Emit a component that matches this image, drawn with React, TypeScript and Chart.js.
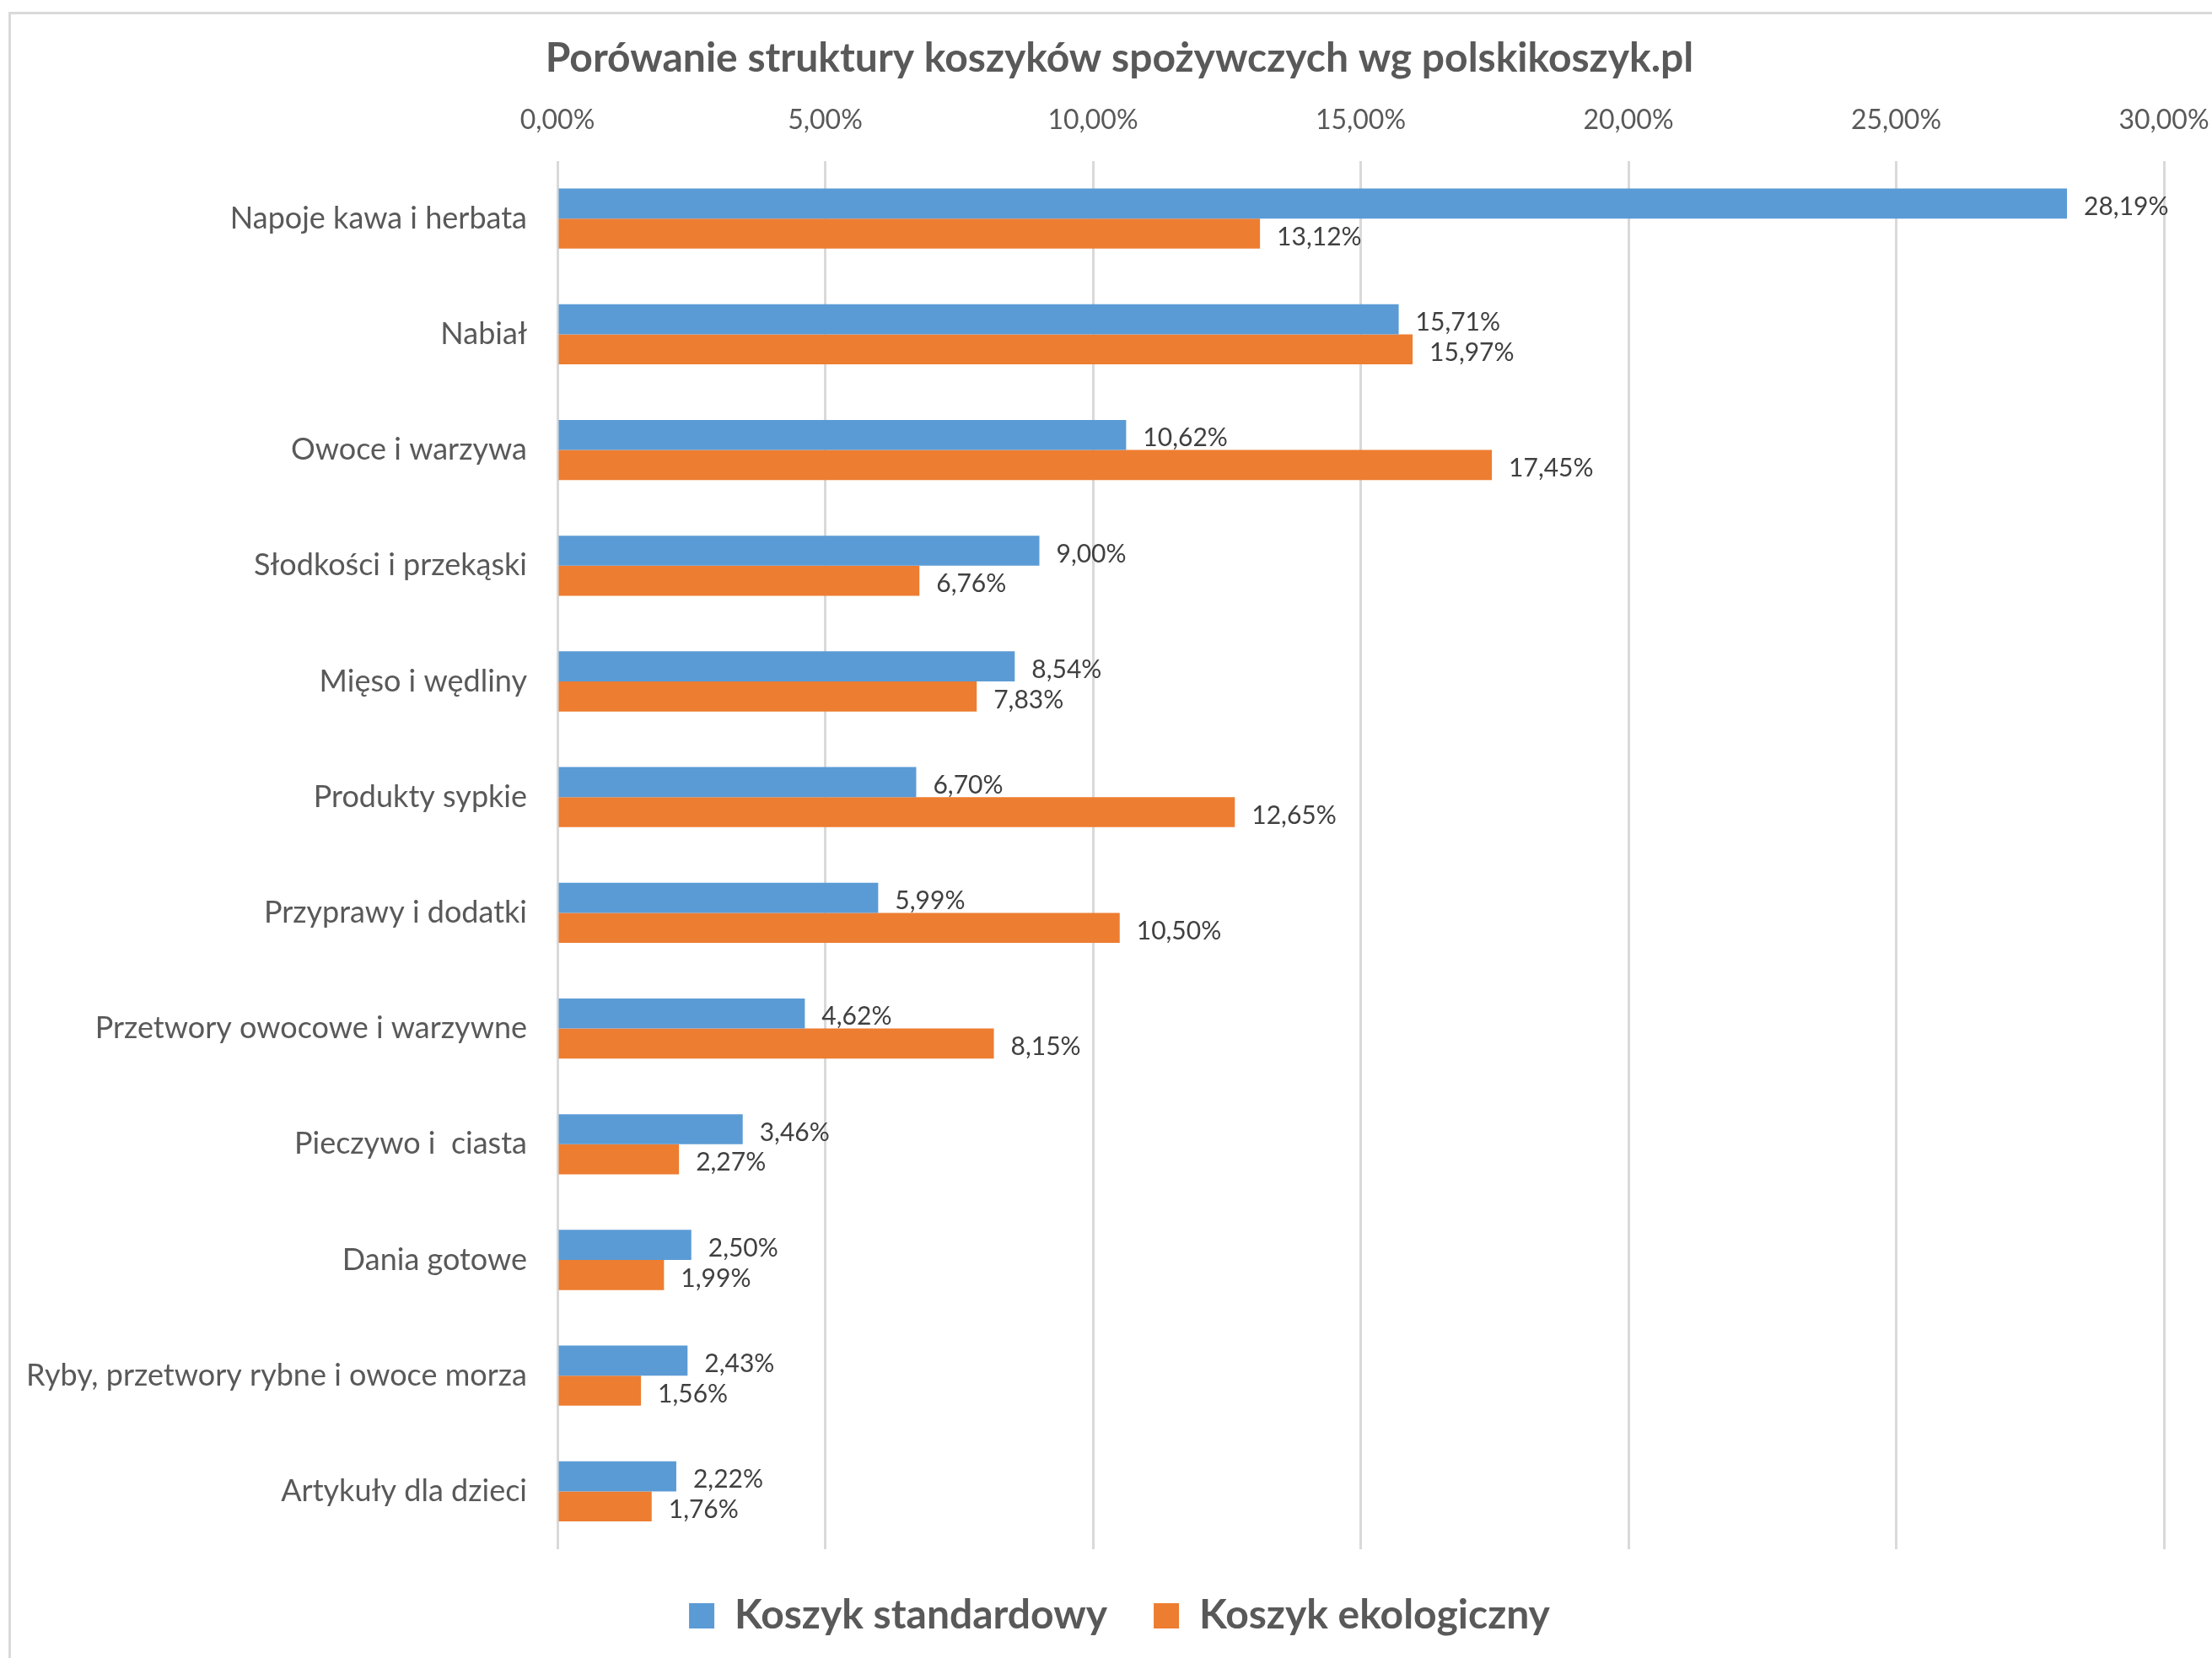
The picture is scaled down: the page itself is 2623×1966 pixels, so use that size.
import React, { useEffect, useRef } from "react";
import { Chart, registerables } from "chart.js";

Chart.register(...registerables);

const categories = [
  "Napoje kawa i herbata",
  "Nabiał",
  "Owoce i warzywa",
  "Słodkości i przekąski",
  "Mięso i wędliny",
  "Produkty sypkie",
  "Przyprawy i dodatki",
  "Przetwory owocowe i warzywne",
  "Pieczywo i  ciasta",
  "Dania gotowe",
  "Ryby, przetwory rybne i owoce morza",
  "Artykuły dla dzieci",
];

const standardValues = [28.19, 15.71, 10.62, 9.0, 8.54, 6.7, 5.99, 4.62, 3.46, 2.5, 2.43, 2.22];
const ecoValues = [13.12, 15.97, 17.45, 6.76, 7.83, 12.65, 10.5, 8.15, 2.27, 1.99, 1.56, 1.76];

const seriesNames = ["Koszyk standardowy", "Koszyk ekologiczny"];
const titleText = "Porówanie struktury koszyków spożywczych wg polskikoszyk.pl";

const axisMin = 0;
const axisMax = 30;
const axisStep = 5;

const fmt = (v: number) => v.toFixed(2).replace(".", ",") + "%";

const FONT = "Lato, 'Open Sans', sans-serif";

const dataLabelPlugin = {
  id: "dataLabels",
  afterDatasetsDraw(chart: any) {
    const ctx = chart.ctx;
    ctx.save();
    ctx.font = `30px ${FONT}`;
    ctx.fillStyle = "#404040";
    ctx.textAlign = "left";
    ctx.textBaseline = "middle";
    chart.data.datasets.forEach((ds: any, di: number) => {
      const meta = chart.getDatasetMeta(di);
      meta.data.forEach((bar: any, i: number) => {
        ctx.fillText(fmt(ds.data[i]), bar.x + 20, bar.y + 4);
      });
    });
    ctx.restore();
  },
};

// widen the category-axis label clip area to the canvas edge so long labels are not cut
const labelAreaPlugin = {
  id: "labelArea",
  afterLayout(chart: any) {
    const y = chart.scales.y;
    if (y) y.left = 0;
  },
};

export default function App() {
  const ref = useRef<HTMLCanvasElement | null>(null);
  useEffect(() => {
    if (!ref.current) return;
    const chart = new Chart(ref.current, {
      type: "bar",
      data: {
        labels: categories,
        datasets: [
          {
            label: seriesNames[0],
            data: standardValues,
            backgroundColor: "#5B9BD5",
            borderWidth: 0,
            categoryPercentage: 0.52,
            barPercentage: 1,
          },
          {
            label: seriesNames[1],
            data: ecoValues,
            backgroundColor: "#ED7D31",
            borderWidth: 0,
            categoryPercentage: 0.52,
            barPercentage: 1,
          },
        ],
      },
      options: {
        indexAxis: "y",
        responsive: false,
        animation: false,
        devicePixelRatio: 1,
        layout: { padding: { left: 89, right: 57, top: 0, bottom: 16 } },
        plugins: {
          title: {
            display: true,
            text: titleText,
            color: "#595959",
            font: { family: FONT, size: 48, weight: "bold" },
            padding: { top: 41, bottom: 0 },
          },
          legend: {
            display: true,
            position: "bottom",
            labels: {
              color: "#595959",
              font: { family: FONT, size: 48, weight: "bold" },
              boxWidth: 30,
              boxHeight: 30,
              padding: 55,
            },
          },
          tooltip: { enabled: false },
        },
        scales: {
          x: {
            position: "top",
            min: axisMin,
            max: axisMax,
            ticks: {
              stepSize: axisStep,
              color: "#595959",
              font: { family: FONT, size: 32 },
              padding: 29,
              callback: (v: any) => fmt(Number(v)),
            },
            grid: { color: "#D9D9D9", lineWidth: 3, drawTicks: false, tickLength: 0 },
            border: { display: false },
            afterFit: (scale: any) => {
              scale.height = 92;
              scale.paddingLeft = 0;
              scale.paddingRight = 0;
            },
          },
          y: {
            ticks: {
              color: "#595959",
              font: { family: FONT, size: 36 },
              padding: 36,
            },
            grid: { display: false, drawTicks: false, tickLength: 0 },
            border: { display: false },
            afterFit: (scale: any) => {
              scale.width = 572;
            },
          },
        },
      },
      plugins: [dataLabelPlugin, labelAreaPlugin],
    });
    return () => chart.destroy();
  }, []);

  return (
    <div
      style={{
        position: "absolute",
        left: 0,
        top: 0,
        width: 2623,
        height: 1966,
        overflow: "hidden",
        background: "#ffffff",
      }}
    >
      <div
        style={{
          position: "absolute",
          left: 10,
          top: 14,
          width: 3000,
          height: 3000,
          border: "3px solid #D9D9D9",
        }}
      />
      <canvas
        ref={ref}
        width={2623}
        height={1966}
        style={{ position: "absolute", left: 0, top: 0, width: 2623, height: 1966 }}
      />
    </div>
  );
}
